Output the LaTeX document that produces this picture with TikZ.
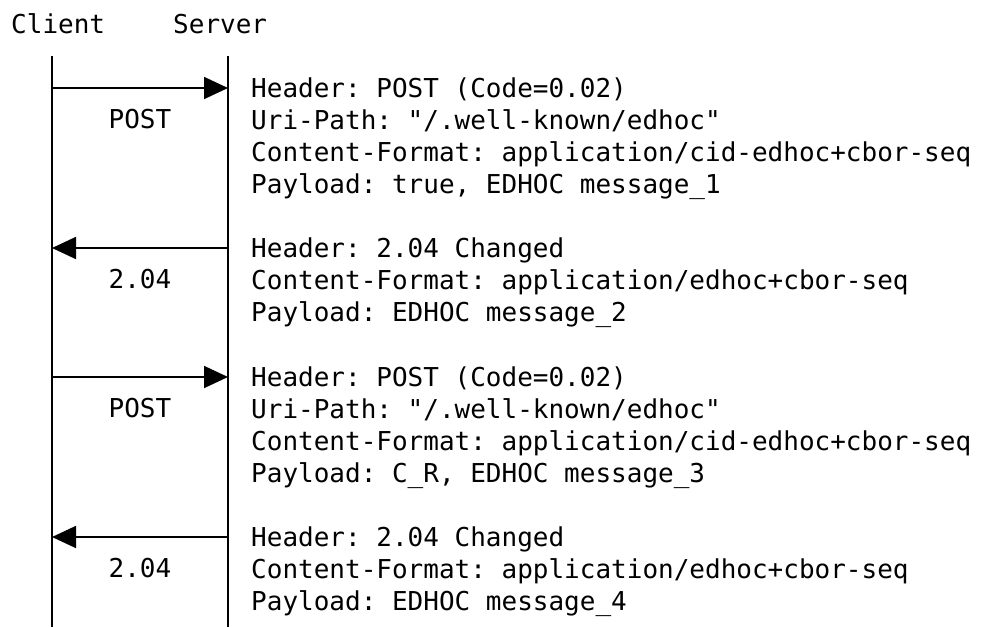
\documentclass[tikz,border=0pt]{standalone}
\usepackage{fontspec}
\setmonofont{DejaVu Sans Mono}
\usetikzlibrary{arrows.meta}

\tikzset{
    lifeline/.style={line width=2pt},
    msg/.style={line width=1.8pt, -{Triangle[length=24pt,width=22pt]}},
    mono/.style={font=\ttfamily\fontsize{26}{32}\selectfont, inner sep=0pt},
    party/.style={mono, anchor=base west},
    method/.style={mono, anchor=base},
    fields/.style={mono, anchor=base west, align=left},
}

\begin{document}
\begin{tikzpicture}[x=1pt,y=-1pt]
        \useasboundingbox (0,0) rectangle (986,627);
        % endpoints
        \node[party] (client) at (11,33) {Client};
        \node[party] (server) at (173,33) {Server};
        \coordinate (ctop) at (52,56);
        \coordinate (cbot) at (52,627);
        \coordinate (stop) at (228,56);
        \coordinate (sbot) at (228,627);
        \draw[lifeline] (ctop) -- (cbot);
        \draw[lifeline] (stop) -- (sbot);
        \foreach \i/\y in {1/88, 2/248, 3/377, 4/537} {
            \coordinate (c\i) at (52,\y);
            \coordinate (s\i) at (228,\y);
        }
        % messages
        \draw[msg] (c1) -- (s1);
        \draw[msg] (s2) -- (c2);
        \draw[msg] (c3) -- (s3);
        \draw[msg] (s4) -- (c4);
        \node[method] (post1) at (140,128) {POST};
        \node[method] (resp1) at (140,288) {2.04};
        \node[method] (post2) at (140,417) {POST};
        \node[method] (resp2) at (140,577) {2.04};
        % option fields (anchored at the base of the last line)
        \node[fields] (req1) at (251,193) {Header: POST (Code=0.02)\\
            Uri-Path: "/.well-known/edhoc"\\
            Content-Format: application/cid-edhoc+cbor-seq\\
            Payload: true, EDHOC message\_1};
        \node[fields] (rsp1) at (251,321) {Header: 2.04 Changed\\
            Content-Format: application/edhoc+cbor-seq\\
            Payload: EDHOC message\_2};
        \node[fields] (req2) at (251,482) {Header: POST (Code=0.02)\\
            Uri-Path: "/.well-known/edhoc"\\
            Content-Format: application/cid-edhoc+cbor-seq\\
            Payload: C\_R, EDHOC message\_3};
        \node[fields] (rsp2) at (251,610) {Header: 2.04 Changed\\
            Content-Format: application/edhoc+cbor-seq\\
            Payload: EDHOC message\_4};
\end{tikzpicture}
\end{document}
